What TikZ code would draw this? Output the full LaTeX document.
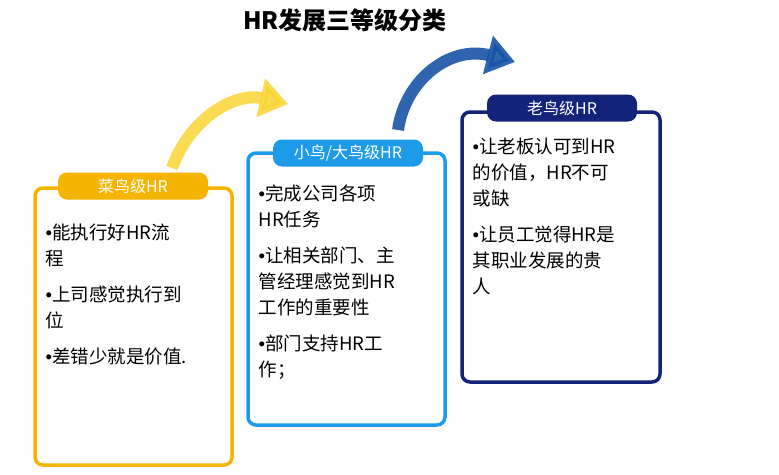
\documentclass[tikz,border=0pt]{standalone}
\usepackage{fontspec}
\newfontfamily\cjk{Noto Sans CJK SC}
\newfontfamily\latin{Liberation Sans}
\usetikzlibrary{arrows.meta, positioning}
\definecolor{gold}{HTML}{F5B400}
\definecolor{lblue}{HTML}{1E9BE8}
\definecolor{navy}{HTML}{14237A}
\newcommand{\bul}{{\latin •}}
\tikzset{
  levelbox/.style={draw=#1, line width=3.5pt, rounded corners=8pt, fill=white},
  pill/.style={rounded corners=9pt, fill=#1, minimum width=150pt, minimum height=27pt,
    text=white, font=\cjk\fontsize{16}{18}\selectfont},
  items/.style={anchor=north west, align=left, font=\cjk\fontsize{18.5}{26}\selectfont},
  bend/.style={line width=12pt, -{Triangle[length=28pt,width=38pt]}, draw=#1}
}
\begin{document}
\begin{tikzpicture}[x=1pt, y=-1pt]
\useasboundingbox (0,0) rectangle (779,474);

% title
\node[font=\cjk\bfseries\fontsize{24}{28}\selectfont] (title) at (345,20) {HR发展三等级分类};

% curved arrows
\draw[bend={gold!70!yellow!80!white}, opacity=0.85] (172,168) .. controls (190,118) and (235,92) .. (288,104);
\draw[bend={navy!60!lblue}, opacity=0.9] (398,130) .. controls (405,80) and (450,45) .. (515,62);

% boxes
\draw[levelbox=gold] (35,188) rectangle (232,465);
\draw[levelbox=lblue] (248,153) rectangle (445,425);
\draw[levelbox=navy] (462,112) rectangle (660,382);

% labels
\node[pill=gold] (l1) at (133,186) {菜鸟级HR};
\node[pill=lblue] (l2) at (348,153) {小鸟/大鸟级HR};
\node[pill=navy] (l3) at (562,108) {老鸟级HR};

% texts
\node[items] (t1) at (42,220) {\bul 能执行好HR流\\程\\[10pt]\bul 上司感觉执行到\\位\\[10pt]\bul 差错少就是价值.};
\node[items] (t2) at (255,181) {\bul 完成公司各项\\HR任务\\[10pt]\bul 让相关部门、主\\管经理感觉到HR\\工作的重要性\\[10pt]\bul 部门支持HR工\\作；};
\node[items] (t3) at (469,134) {\bul 让老板认可到HR\\的价值，HR不可\\或缺\\[10pt]\bul 让员工觉得HR是\\其职业发展的贵\\人};
\end{tikzpicture}
\end{document}
